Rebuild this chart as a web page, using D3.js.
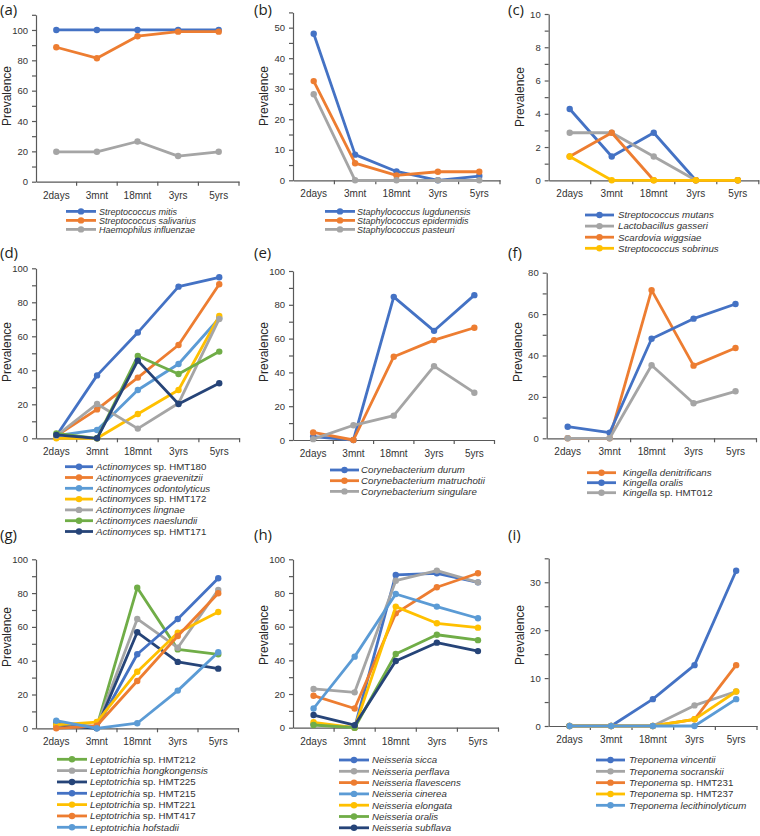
<!DOCTYPE html>
<html>
<head>
<meta charset="utf-8">
<script src="https://cdn.jsdelivr.net/npm/d3@7"></script>
<style>
   body { margin: 0; background: #fff; }
   svg { display: block; font-family: "Liberation Sans", Arial, sans-serif; }
</style>
</head>
<body>
<svg id="chart" width="760" height="836"></svg>
<script>
const categories = ["2days", "3mnt", "18mnt", "3yrs", "5yrs"];

// Excel-style palette
const C = {
   blue: "#4472C4", orange: "#ED7D31", gray: "#A5A5A5", yellow: "#FFC000",
   lightBlue: "#5B9BD5", green: "#70AD47", navy: "#264478"
};

// (a)
const aNames = ["Streptococcus mitis", "Streptococcus salivarius", "Haemophilus influenzae"];
const aValues = [
   [100, 100, 100, 100, 100],
   [88.6, 81.4, 95.9, 98.9, 98.9],
   [19.7, 19.7, 26.5, 16.9, 19.7]
];
const aColors = [C.blue, C.orange, C.gray];

// (b)
const bNames = ["Staphylococcus lugdunensis", "Staphylococcus epidermidis", "Staphylococcus pasteuri"];
const bValues = [
   [48, 8.4, 2.9, 0, 1.4],
   [32.5, 5.6, 1.6, 2.8, 2.8],
   [28.2, 0, 0, 0, 0]
];
const bColors = [C.blue, C.orange, C.gray];

// (c)
const cNames = ["Streptococcus mutans", "Lactobacillus gasseri", "Scardovia wiggsiae", "Streptococcus sobrinus"];
const cValues = [
   [4.29, 1.43, 2.86, 0, 0],
   [2.86, 2.86, 1.43, 0, 0],
   [1.43, 2.86, 0, 0, 0],
   [1.43, 0, 0, 0, 0]
];
const cColors = [C.blue, C.gray, C.orange, C.yellow];

// (d)
const dNames = ["Actinomyces sp. HMT180", "Actinomyces graevenitzii", "Actinomyces odontolyticus",
   "Actinomyces sp. HMT172", "Actinomyces lingnae", "Actinomyces naeslundii", "Actinomyces sp. HMT171"];
const dValues = [
   [1.5, 37, 62.2, 89.2, 94.7],
   [1.5, 17, 35.7, 54.9, 90.6],
   [1.5, 4.9, 28.4, 43.7, 70.6],
   [0, 0, 14.3, 28.4, 72],
   [1.5, 20.2, 5.7, 20.6, 70.2],
   [2.9, 0, 48.4, 37.8, 51],
   [2, 0, 45.7, 20.2, 32.4]
];
const dColors = [C.blue, C.orange, C.lightBlue, C.yellow, C.gray, C.green, C.navy];

// (e)
const eNames = ["Corynebacterium durum", "Corynebacterium matruchotii", "Corynebacterium singulare"];
const eValues = [
   [2, 0, 84.7, 64.6, 85.7],
   [4.5, 0, 49.3, 59.1, 66.4],
   [0.5, 8.7, 14.4, 43.7, 28]
];
const eColors = [C.blue, C.orange, C.gray];

// (f)
const fNames = ["Kingella denitrificans", "Kingella oralis", "Kingella sp. HMT012"];
const fValues = [
   [0, 0, 71.6, 35.1, 43.6],
   [5.6, 2.7, 48.1, 57.8, 64.9],
   [0, 0, 35.3, 16.9, 22.7]
];
const fColors = [C.orange, C.blue, C.gray];

// (g)
const gNames = ["Leptotrichia sp. HMT212", "Leptotrichia hongkongensis", "Leptotrichia sp. HMT225",
   "Leptotrichia sp. HMT215", "Leptotrichia sp. HMT221", "Leptotrichia sp. HMT417", "Leptotrichia hofstadii"];
const gValues = [
   [3.2, 0.8, 83.2, 46.7, 43.8],
   [2.5, 1, 64.7, 47.7, 81.9],
   [2, 0, 56.8, 39.3, 35.3],
   [3, 0.5, 43.8, 64.7, 88.8],
   [2, 3.7, 33.5, 56.6, 68.8],
   [0, 1.5, 28, 54.6, 79.9],
   [4.5, 0, 3, 22.3, 45]
];
const gColors = [C.green, C.gray, C.navy, C.blue, C.yellow, C.orange, C.lightBlue];

// (h)
const hNames = ["Neisseria sicca", "Neisseria perflava", "Neisseria flavescens", "Neisseria cinerea",
   "Neisseria elongata", "Neisseria oralis", "Neisseria subflava"];
const hValues = [
   [2, 0, 90.7, 91.7, 86.3],
   [23, 21, 87.3, 93.3, 86.3],
   [19, 11.4, 67.9, 83.4, 91.7],
   [11.4, 42.2, 79.4, 71.9, 65],
   [3.2, 0, 71.9, 62, 59.4],
   [1.6, 0, 43.8, 55.2, 52],
   [7.5, 1.5, 39.6, 50.5, 45.5]
];
const hColors = [C.blue, C.gray, C.orange, C.lightBlue, C.yellow, C.green, C.navy];

// (i)
const iNames = ["Treponema vincentii", "Treponema socranskii", "Treponema sp. HMT231",
   "Treponema sp. HMT237", "Treponema lecithinolyticum"];
const iValues = [
   [0, 0, 5.6, 12.7, 32.4],
   [0, 0, 0, 4.3, 7.2],
   [0, 0, 0, 1.4, 12.7],
   [0, 0, 0, 1.4, 7.2],
   [0, 0, 0, 0, 5.6]
];
const iColors = [C.blue, C.gray, C.orange, C.yellow, C.lightBlue];

// layout of each panel (pixels)
const panels = [
   { tag: "(a)", names: aNames, values: aValues, colors: aColors, yMax: 110, yStep: 20,
     left: 36, right: 239, top: 14.8, bottom: 181.7, labelX: 0, labelY: 15, prevY: 96,
     legX1: 66, legX2: 96, legText: 99, legY: 211.4, legDy: 9, legFont: 9 },
   { tag: "(b)", names: bNames, values: bValues, colors: bColors, yMax: 55, yStep: 10,
     left: 293, right: 500, top: 12.4, bottom: 180.3, labelX: 254, labelY: 15, prevY: 96,
     legX1: 325, legX2: 355, legText: 357, legY: 211.4, legDy: 9, legFont: 9 },
   { tag: "(c)", names: cNames, values: cValues, colors: cColors, yMax: 10, yStep: 2,
     left: 548.7, right: 758.8, top: 14, bottom: 180.3, labelX: 508, labelY: 15, prevY: 97,
     legX1: 585, legX2: 614, legText: 618, legY: 215, legDy: 11.1, legFont: 9.7 },
   { tag: "(d)", names: dNames, values: dValues, colors: dColors, yMax: 100, yStep: 20,
     left: 36, right: 239.6, top: 268.3, bottom: 438.3, labelX: 0, labelY: 258, prevY: 352,
     legX1: 65, legX2: 93, legText: 96, legY: 466.7, legDy: 10.8, legFont: 9.7 },
   { tag: "(e)", names: eNames, values: eValues, colors: eColors, yMax: 100, yStep: 20,
     left: 293, right: 494.5, top: 271, bottom: 440, labelX: 254, labelY: 258, prevY: 352,
     legX1: 330, legX2: 359, legText: 361, legY: 470, legDy: 10.7, legFont: 9.7 },
   { tag: "(f)", names: fNames, values: fValues, colors: fColors, yMax: 80, yStep: 20,
     left: 546.7, right: 756.5, top: 272.7, bottom: 438.3, labelX: 508, labelY: 258, prevY: 352,
     legX1: 587, legX2: 616, legText: 622.7, legY: 472.7, legDy: 10, legFont: 9.7 },
   { tag: "(g)", names: gNames, values: gValues, colors: gColors, yMax: 100, yStep: 20,
     left: 36, right: 238.5, top: 559.3, bottom: 728.3, labelX: 0, labelY: 540, prevY: 637,
     legX1: 57, legX2: 87, legText: 90, legY: 759.3, legDy: 11.33, legFont: 9.7 },
   { tag: "(h)", names: hNames, values: hValues, colors: hColors, yMax: 100, yStep: 20,
     left: 293, right: 498.5, top: 559.3, bottom: 727.7, labelX: 254, labelY: 540, prevY: 635,
     legX1: 339, legX2: 369, legText: 372, legY: 760, legDy: 11.3, legFont: 9.7 },
   { tag: "(i)", names: iNames, values: iValues, colors: iColors, yMax: 35, yStep: 10,
     left: 548.7, right: 757, top: 558.3, bottom: 726, labelX: 508, labelY: 540, prevY: 635,
     legX1: 596, legX2: 625, legText: 629, legY: 760, legDy: 11.33, legFont: 9.7 }
];

const axisColor = "#595959";
const textColor = "#333333";
const svg = d3.select("#chart");

function legendText(sel, name) {
   // genus always italic, species italic unless "sp. XXX"
   const parts = name.split(" ");
   if (parts[1] === "sp.") {
      sel.append("tspan").attr("font-style", "italic").text(parts[0]);
      sel.append("tspan").text(" " + parts.slice(1).join(" "));
   } else {
      sel.append("tspan").attr("font-style", "italic").text(name);
   }
}

function drawPanel(p) {
   const g = svg.append("g");

   const x = d3.scaleBand().domain(categories).range([p.left, p.right]);
   const y = d3.scaleLinear().domain([0, p.yMax]).range([p.bottom, p.top]);
   const cx = d => x(d) + x.bandwidth() / 2;

   // y axis, minor ticks between labelled ones
   const yAxis = d3.axisLeft(y)
      .tickValues(d3.range(0, p.yMax + 0.001, p.yStep / 2))
      .tickSize(4)
      .tickSizeOuter(0)
      .tickPadding(4)
      .tickFormat(d => (d % p.yStep === 0 ? d : ""));

   const ya = g.append("g")
      .attr("transform", `translate(${p.left},0)`)
      .call(yAxis);
   ya.selectAll("path, line").attr("stroke", axisColor).attr("stroke-width", 1.2);
   ya.selectAll("text").attr("fill", textColor).attr("font-size", 9.5)
      .attr("font-family", "Liberation Sans, Arial, sans-serif");

   // x axis with ticks on category boundaries
   const xa = g.append("g")
      .attr("transform", `translate(0,${p.bottom})`)
      .call(d3.axisBottom(x).tickSize(0).tickSizeOuter(0).tickPadding(10));
   xa.select(".domain").attr("stroke", axisColor).attr("stroke-width", 1.2);
   xa.selectAll("text").attr("fill", textColor).attr("font-size", 10)
      .attr("font-family", "Liberation Sans, Arial, sans-serif");
   xa.selectAll("line.bound")
      .data(categories)
      .join("line")
      .attr("class", "bound")
      .attr("x1", d => x(d) + x.step())
      .attr("x2", d => x(d) + x.step())
      .attr("y1", 0)
      .attr("y2", 4)
      .attr("stroke", axisColor)
      .attr("stroke-width", 1.2);

   // y title
   g.append("text")
      .attr("transform", `translate(${p.left - 29},${p.prevY}) rotate(-90)`)
      .attr("text-anchor", "middle")
      .attr("dominant-baseline", "central")
      .attr("font-size", 12)
      .attr("fill", "#262626")
      .text("Prevalence");

   // panel tag
   g.append("text")
      .attr("x", p.labelX)
      .attr("y", p.labelY)
      .attr("font-family", "Open Sans, DejaVu Sans, sans-serif")
      .attr("font-size", 15)
      .attr("fill", "#231f20")
      .text(p.tag);

   // series
   const line = d3.line()
      .x((d, i) => cx(categories[i]))
      .y(d => y(d));

   p.values.forEach((vals, k) => {
      const s = g.append("g");
      s.append("path")
         .attr("d", line(vals))
         .attr("fill", "none")
         .attr("stroke", p.colors[k])
         .attr("stroke-width", 2.8)
         .attr("stroke-linejoin", "round");
      s.selectAll("circle")
         .data(vals)
         .join("circle")
         .attr("cx", (d, i) => cx(categories[i]))
         .attr("cy", d => y(d))
         .attr("r", 3.2)
         .attr("fill", p.colors[k]);
   });

   // legend
   const leg = g.append("g");
   p.names.forEach((name, k) => {
      const ly = p.legY + k * p.legDy;
      leg.append("line")
         .attr("x1", p.legX1).attr("x2", p.legX2)
         .attr("y1", ly).attr("y2", ly)
         .attr("stroke", p.colors[k])
         .attr("stroke-width", 2.8);
      leg.append("circle")
         .attr("cx", (p.legX1 + p.legX2) / 2)
         .attr("cy", ly)
         .attr("r", 3.2)
         .attr("fill", p.colors[k]);
      const t = leg.append("text")
         .attr("x", p.legText)
         .attr("y", ly + p.legFont * 0.35)
         .attr("font-size", p.legFont)
         .attr("fill", textColor);
      legendText(t, name);
   });
}

panels.forEach(drawPanel);
</script>
</body>
</html>
